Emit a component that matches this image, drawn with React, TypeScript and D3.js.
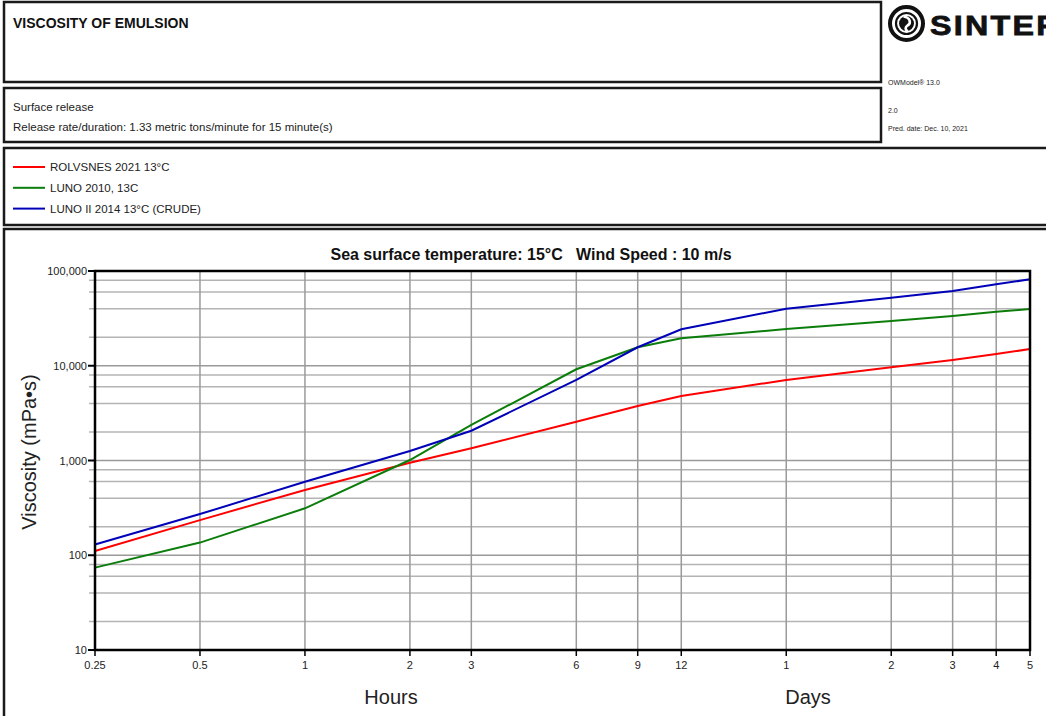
import React from "react";
import * as d3 from "d3";

// Time axis (hours) and the labels shown under it
const hourTicks = [0.25, 0.5, 1, 2, 3, 6, 9, 12, 24, 48, 72, 96, 120];
const hourTickLabels = ["0.25", "0.5", "1", "2", "3", "6", "9", "12", "1", "2", "3", "4", "5"];

// Sample times (hours) for the viscosity series
const times = [0.25, 0.5, 1, 2, 3, 6, 9, 12, 24, 48, 72, 96, 120];

// Viscosity of emulsion, mPa·s
const rolvsnes = [111, 235, 489, 948, 1346, 2570, 3760, 4800, 7080, 9640, 11500, 13300, 15000];
const luno2010 = [74, 136, 313, 1012, 2371, 9180, 15670, 19500, 24400, 29700, 33500, 37100, 39700];
const lunoII = [130, 272, 597, 1259, 2062, 7080, 15670, 24270, 40000, 52300, 61500, 72400, 81700];

const seriesNames = ["ROLVSNES 2021 13°C", "LUNO 2010, 13C", "LUNO II 2014 13°C (CRUDE)"];
const seriesColors = ["#ff0000", "#0b7d0b", "#0000b8"];
const seriesValues = [rolvsnes, luno2010, lunoII];

const yMajor = [10, 100, 1000, 10000, 100000];
const yMajorLabels = ["10", "100", "1,000", "10,000", "100,000"];

const FONT = "'Liberation Sans', Arial, sans-serif";

export default function App() {
  const W = 1046;
  const H = 716;
  const left = 95, right = 1030, top = 271, bottom = 650;

  const x = d3.scaleLog().domain([0.25, 120]).range([left, right]);
  const y = d3.scaleLog().domain([10, 100000]).range([bottom, top]);

  // minor horizontal gridlines at 2,4,6,8 of every decade
  const yMinor: number[] = [];
  for (let d = 10; d < 100000; d *= 10) {
    [2, 4, 6, 8].forEach((m) => yMinor.push(d * m));
  }

  const line = d3
    .line<[number, number]>()
    .x((d) => x(d[0]))
    .y((d) => y(d[1]));

  const boxStroke = "#1a1a1a";

  return (
    <svg
      width={W}
      height={H}
      style={{ position: "absolute", left: 0, top: 0, background: "#fff" }}
      fontFamily={FONT}
    >
      <rect x={0} y={0} width={W} height={H} fill="#fff" />

      {/* Header boxes */}
      <rect x={4} y={2} width={877} height={80} fill="none" stroke={boxStroke} strokeWidth={2.5} />
      <text x={13} y={28} fontSize={14} fontWeight="bold" fill="#111">
        VISCOSITY OF EMULSION
      </text>

      <rect x={4} y={88} width={877} height={54} fill="none" stroke={boxStroke} strokeWidth={2.5} />
      <text x={13} y={111} fontSize={11.5} fill="#222">Surface release</text>
      <text x={13} y={131} fontSize={11.5} fill="#222">
        Release rate/duration: 1.33 metric tons/minute for 15 minute(s)
      </text>

      {/* Logo and model info */}
      <g transform="translate(906.5,23.5)">
        <circle r={16.5} fill="none" stroke="#111" strokeWidth={4} />
        <circle r={10.5} fill="none" stroke="#111" strokeWidth={2.2} />
        <circle r={7.5} fill="#111" />
        <path d="M -3 -7 C 4 -6, 5 0, 1 2 C -2 4, -1 6, 1 8" fill="none" stroke="#fff" strokeWidth={2.6} />
      </g>
      <text
        x={0}
        y={0}
        fontSize={28}
        fontWeight="bold"
        fill="#111"
        stroke="#111"
        strokeWidth={0.8}
        letterSpacing={2}
        transform="translate(930,35) scale(1.15,1)"
      >
        SINTEF
      </text>
      <text x={888} y={85} fontSize={7} fill="#222">OWModel® 13.0</text>
      <text x={888} y={113} fontSize={7} fill="#222">2.0</text>
      <text x={888} y={131} fontSize={7} fill="#222">Pred. date: Dec. 10, 2021</text>

      {/* Legend box */}
      <rect x={4} y={148} width={W + 10} height={77} fill="none" stroke={boxStroke} strokeWidth={2.5} />
      {seriesNames.map((name, i) => {
        const ly = 167 + i * 20.8;
        return (
          <g key={name}>
            <line x1={13} x2={45} y1={ly} y2={ly} stroke={seriesColors[i]} strokeWidth={2} />
            <text x={50} y={ly + 4} fontSize={11.5} fill="#222">{name}</text>
          </g>
        );
      })}

      {/* Chart box */}
      <rect x={4} y={229} width={W + 10} height={H} fill="none" stroke={boxStroke} strokeWidth={2.5} />
      <text x={531} y={260} fontSize={16} fontWeight="bold" textAnchor="middle" fill="#111">
        Sea surface temperature: 15°C{"\u00a0\u00a0\u00a0"}Wind Speed : 10 m/s
      </text>

      {/* Gridlines */}
      {yMinor.map((v) => (
        <line key={"ym" + v} x1={89} x2={right} y1={y(v)} y2={y(v)} stroke="#b4b4b4" strokeWidth={1.5} />
      ))}
      {yMajor.map((v) => (
        <line key={"yM" + v} x1={left} x2={right} y1={y(v)} y2={y(v)} stroke="#9a9a9a" strokeWidth={1.5} />
      ))}
      {hourTicks.map((h) => (
        <line key={"xg" + h} x1={x(h)} x2={x(h)} y1={top} y2={bottom} stroke="#9a9a9a" strokeWidth={1.5} />
      ))}

      {/* Series */}
      {seriesValues.map((vals, i) => (
        <path
          key={seriesNames[i]}
          d={line(times.map((t, k) => [t, vals[k]] as [number, number])) || ""}
          fill="none"
          stroke={seriesColors[i]}
          strokeWidth={2}
        />
      ))}

      {/* Plot frame */}
      <rect x={left} y={top} width={right - left} height={bottom - top} fill="none" stroke="#000" strokeWidth={2.5} />

      {/* Y axis ticks and labels */}
      {yMajor.map((v, i) => (
        <g key={"yt" + v}>
          <line x1={88} x2={left} y1={y(v)} y2={y(v)} stroke="#000" strokeWidth={2} />
          <text x={87} y={y(v) + 4} fontSize={11} textAnchor="end" fill="#222">
            {yMajorLabels[i]}
          </text>
        </g>
      ))}

      {/* X axis ticks and labels */}
      {hourTicks.map((h, i) => (
        <g key={"xt" + h}>
          <line x1={x(h)} x2={x(h)} y1={bottom} y2={bottom + 6} stroke="#000" strokeWidth={1.5} />
          <text x={x(h)} y={bottom + 19} fontSize={11} textAnchor="middle" fill="#222">
            {hourTickLabels[i]}
          </text>
        </g>
      ))}

      <text x={391} y={704} fontSize={20} textAnchor="middle" fill="#222">Hours</text>
      <text x={808} y={704} fontSize={20} textAnchor="middle" fill="#222">Days</text>
      <text
        transform={`translate(36,452) rotate(-90)`}
        fontSize={20}
        textAnchor="middle"
        fill="#222"
      >
        Viscosity (mPa•s)
      </text>
    </svg>
  );
}
